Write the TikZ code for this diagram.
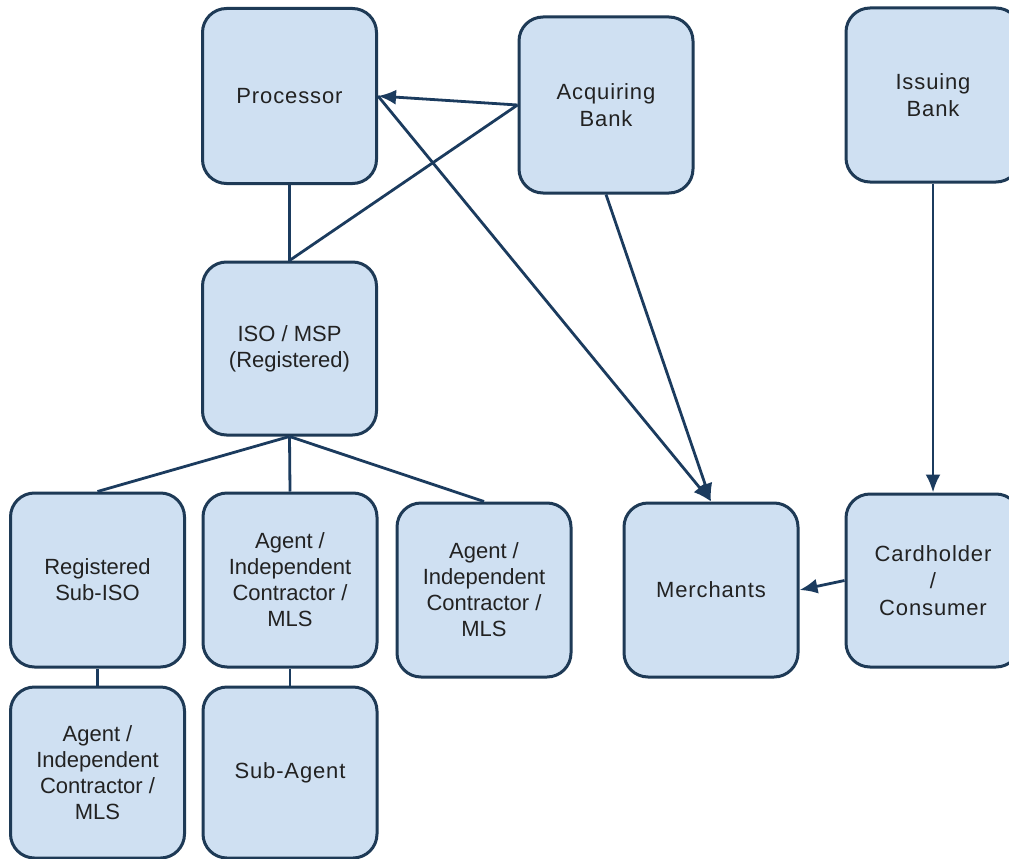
\documentclass[tikz,border=0pt]{standalone}
\usepackage{fontspec}
\setmainfont{Liberation Sans}
\usetikzlibrary{arrows.meta}
\definecolor{boxfill}{HTML}{CFE0F2}
\definecolor{boxline}{HTML}{1E3A56}
\definecolor{conn}{HTML}{1B3B5E}
\definecolor{txt}{HTML}{222222}
\begin{document}
\begin{tikzpicture}[x=1pt,y=-1pt,
  box/.style={draw=boxline, line width=3pt, fill=boxfill, rounded corners=24pt,
    minimum width=174pt, minimum height=174pt, inner sep=0pt, align=center,
    text=txt, font=\fontsize{22}{26}\selectfont},
  spaced/.style={font=\fontsize{22}{27}\selectfont\addfontfeatures{LetterSpace=4}},
  link/.style={draw=conn, line width=2.8pt},
  arr/.style={link, -{Latex[length=18pt,width=15pt]}}]
\useasboundingbox[fill=white] (0,0) rectangle (1009,859);
\node[box, spaced, minimum height=175pt] (proc) at (289.5,96) {Processor};
\node[box, spaced, minimum height=176pt] (acq) at (606,105) {Acquiring\\Bank};
\node[box, spaced] (iss) at (933,95) {Issuing\\Bank};
\node[box, minimum height=173pt] (iso) at (289.5,348.5) {ISO / MSP\\(Registered)};
\node[box] (subiso) at (97.5,580) {Registered\\Sub-ISO};
\node[box] (ag1) at (290,580) {Agent /\\Independent\\Contractor /\\MLS};
\node[box] (ag2) at (484,590) {Agent /\\Independent\\Contractor /\\MLS};
\node[box, spaced] (merch) at (711,590) {Merchants};
\node[box, spaced, minimum height=173pt] (card) at (933,580.5) {Cardholder\\/\\Consumer};
\node[box, minimum height=171pt] (ag3) at (97.5,772.5) {Agent /\\Independent\\Contractor /\\MLS};
\node[box, spaced, minimum height=171pt] (sub) at (290,772.5) {Sub-Agent};
% connectors
\draw[arr] (acq.west) -- (proc.east);
\draw[link] (acq.west) -- (iso.north);
\draw[link] (proc.south) -- (iso.north);
\draw[arr] (proc.east) -- (merch.north);
\draw[arr] (acq.south) -- (merch.north);
\draw[arr] (iss.south) -- (card.north);
\draw[arr] (card.west) -- (merch.east);
\draw[link] (iso.south) -- (subiso.north);
\draw[link] (iso.south) -- (ag1.north);
\draw[link] (iso.south) -- (ag2.north);
\draw[link] (subiso.south) -- (ag3.north);
\draw[link] (ag1.south) -- (sub.north);
\end{tikzpicture}
\end{document}
